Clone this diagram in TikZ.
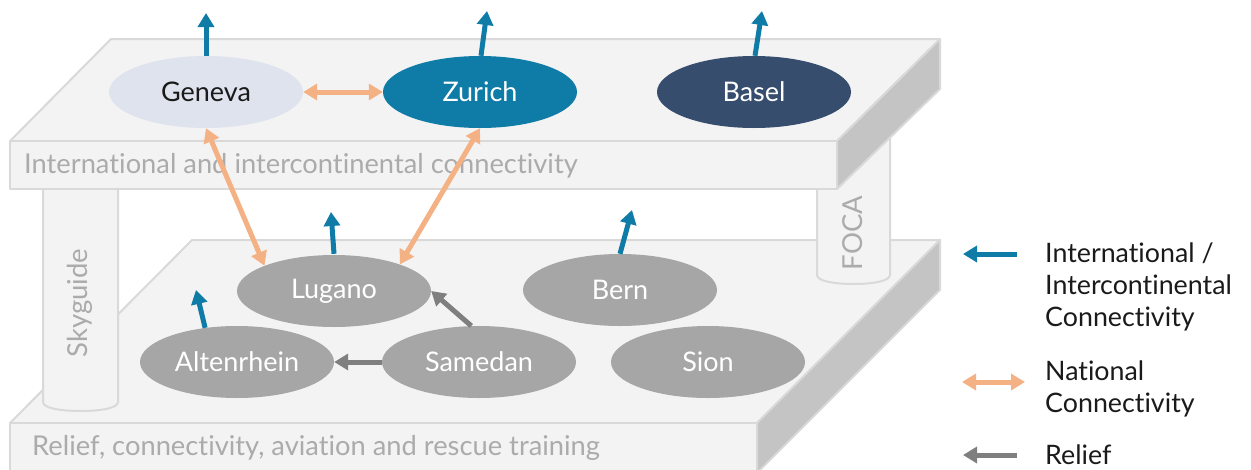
\documentclass[tikz,border=0pt]{standalone}
\usepackage{fontspec}
\setmainfont[Ligatures=NoCommon]{Lato}
\usetikzlibrary{arrows.meta,shapes.geometric}
\definecolor{platE}{HTML}{D9D9D9}
\definecolor{platF}{HTML}{F3F3F3}
\definecolor{platS}{HTML}{C4C4C4}
\definecolor{labG}{HTML}{ABABAB}
\definecolor{intB}{HTML}{0F7BA7}
\definecolor{natO}{HTML}{F4B183}
\definecolor{relG}{HTML}{7F7F7F}
\definecolor{genF}{HTML}{DEE3ED}
\definecolor{basF}{HTML}{374D6E}
\definecolor{cityG}{HTML}{A6A6A6}
\definecolor{txtK}{HTML}{1A1A1A}
\begin{document}
\begin{tikzpicture}[x=1pt,y=-1pt,
  face/.style={fill=platF, draw=platE, line width=2pt, line join=round},
  sideface/.style={fill=platS, draw=platE, line width=2pt, line join=round},
  city/.style={ellipse, minimum width=194pt, minimum height=72pt, inner sep=0pt, font=\fontsize{27}{30}\selectfont, text=white},
  platlabel/.style={anchor=west, inner sep=0pt, text=labG, font=\fontsize{27.3}{30}\selectfont},
  pillarlabel/.style={rotate=90, inner sep=0pt, text=labG, font=\fontsize{27.5}{30}\selectfont},
  legtext/.style={anchor=west, align=left, inner sep=0pt, text=txtK, font=\fontsize{26.8}{32}\selectfont},
  intarrow/.style={draw=intB, line width=5pt, -{Triangle[length=14pt,width=16pt]}},
  natarrow/.style={draw=natO, line width=5pt, {Triangle[length=14pt,width=16pt]}-{Triangle[length=14pt,width=16pt]}},
  relarrow/.style={draw=relG, line width=5pt, -{Triangle[length=14pt,width=16pt]}}
]
\useasboundingbox (0,0) rectangle (1251,469);

% bottom platform
\path[face] (192,240) -- (940,240) -- (757,423) -- (10,423) -- cycle;
\path[face] (10,423) rectangle (757,475);
\path[sideface] (757,423) -- (940,240) -- (940,290) -- (757,473) -- cycle;
\node[platlabel] (lowlab) at (32,448) {Relief, connectivity, aviation and rescue training};

% pillars
\path[face] (43,180) -- (43,402) .. controls (43,408) and (60,411) .. (80.5,411) .. controls (101,411) and (118,408) .. (118,402) -- (118,180) -- cycle;
\node[pillarlabel] (skyg) at (80,303) {Skyguide};
\path[face] (817,120) -- (817,275) .. controls (817,281) and (834,284) .. (853.5,284) .. controls (873,284) and (890,281) .. (890,275) -- (890,120) -- cycle;
\node[pillarlabel] (foca) at (853,233) {FOCA};

% top platform
\path[face] (111,39) -- (940,39) -- (837,141) -- (10,141) -- cycle;
\path[face] (10,141) rectangle (837,189);
\path[sideface] (837,141) -- (940,39) -- (940,89) -- (837,189) -- cycle;
\node[platlabel] (toplab) at (24,166) {International and intercontinental connectivity};

% cities
\node[city, fill=genF, text=txtK] (gen) at (206,92) {Geneva};
\node[city, fill=intB] (zur) at (480,92) {Zurich};
\node[city, fill=basF] (bas) at (754,92) {Basel};
\node[city, fill=cityG] (lug) at (334,291) {Lugano};
\node[city, fill=cityG] (bern) at (620,290) {Bern};
\node[city, fill=cityG] (alt) at (237,362) {Altenrhein};
\node[city, fill=cityG] (sam) at (479,362) {Samedan};
\node[city, fill=cityG] (sion) at (708,362) {Sion};

% international arrows
\coordinate (genT) at (206,13);
\coordinate (zurT) at (487,11);
\coordinate (basT) at (762,11);
\coordinate (lugT) at (331,212);
\coordinate (altT) at (196,290);
\coordinate (bernT) at (632,210);
\draw[intarrow] (gen.north) -- (genT);
\draw[intarrow] ([xshift=1pt]zur.north) -- (zurT);
\draw[intarrow] ([xshift=1pt]bas.north) -- (basT);
\draw[intarrow] ([yshift=1pt]lug.north) -- (lugT);
\draw[intarrow] (alt.133) -- (altT);
\draw[intarrow] (bern.north) -- (bernT);

% national arrows
\draw[natarrow] (gen) -- (zur);
\draw[natarrow] (gen.south) -- (lug.160);
\draw[natarrow] (zur.south) -- (lug.22);

% relief arrows
\draw[relarrow] (sam.102) -- (lug.east);
\draw[relarrow] (sam.west) -- (alt.east);

% legend
\coordinate (l1a) at (1017,254);
\coordinate (l1b) at (963,254);
\coordinate (l2a) at (962,382);
\coordinate (l2b) at (1025,382);
\coordinate (l3a) at (1017,455);
\coordinate (l3b) at (963,455);
\draw[intarrow] (l1a) -- (l1b);
\draw[natarrow] (l2a) -- (l2b);
\draw[relarrow] (l3a) -- (l3b);
\node[legtext] (leg1) at (1045,287) {International /\\Intercontinental\\Connectivity};
\node[legtext] (leg2) at (1045,389) {National\\Connectivity};
\node[legtext] (leg3) at (1045,455) {Relief};
\end{tikzpicture}
\end{document}
